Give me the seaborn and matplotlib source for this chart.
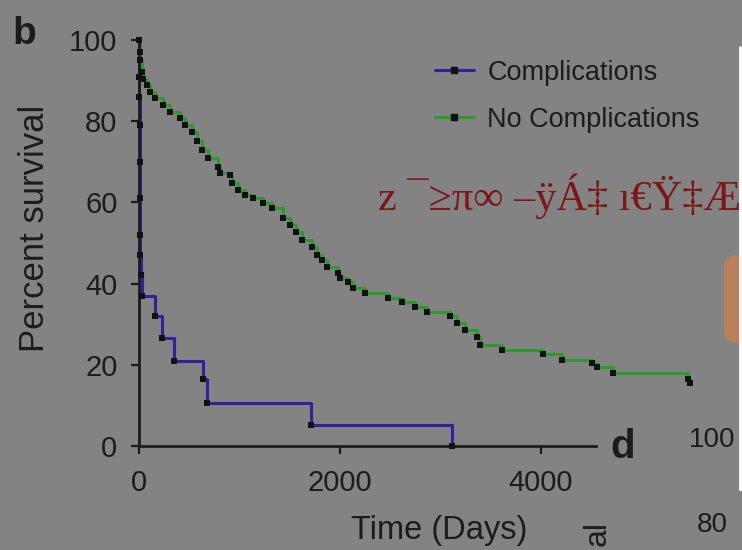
import matplotlib
matplotlib.use("Agg")
import matplotlib.pyplot as plt
import seaborn as sns
import pandas as pd
from matplotlib.lines import Line2D
from matplotlib.patches import FancyBboxPatch

# ---- data ----
comp_days = [0, 2, 4, 6, 8, 10, 12, 14, 20, 30, 160, 232, 348, 640, 680, 1708, 3111]
comp_surv = [100, 91, 86, 79, 70, 61, 52, 47, 42, 37, 32, 26.5, 21, 16.5, 10.5, 5.2, 0]

nocomp_days = [0, 5, 10, 27, 43, 77, 109, 159, 242, 308, 408, 458, 524, 574, 624,
               690, 789, 806, 905, 922, 988, 1055, 1137, 1237, 1323, 1433, 1502,
               1562, 1619, 1718, 1768, 1818, 1868, 1983, 2000, 2083, 2132, 2249,
               2481, 2614, 2746, 2863, 3095, 3161, 3244, 3360, 3393, 3609, 4017,
               4206, 4504, 4554, 4719, 5466, 5480]
nocomp_surv = [100, 97, 95, 92, 90.5, 89, 87.3, 85.6, 84, 82.3, 80.8, 79, 77.4, 75,
               73, 71, 68.8, 67.2, 66.7, 64.7, 63.1, 61.8, 61, 59.8, 58.6, 56.2,
               54.4, 52.7, 50.7, 49.1, 47, 45.8, 44.2, 42.5, 41.3, 40.5, 38.8, 37.6,
               36.5, 35.4, 34.2, 33.1, 32, 30.2, 28.6, 26.9, 24.9, 23.7, 22.7, 21.3,
               20.4, 19.4, 17.9, 16.5, 15.5]

series_names = ["Complications", "No Complications"]
x_ticks = [0, 2000, 4000]
y_ticks = [0, 20, 40, 60, 80, 100]

BG = "#838383"
BLUE = "#34209c"
GREEN = "#2f9a2c"
INK = "#1c1c1c"
MARK = "#111111"

sns.set_theme(style="white")
plt.rcParams["font.family"] = ["Liberation Sans", "DejaVu Sans"]

W, H = 742, 550
fig = plt.figure(figsize=(W / 100, H / 100), dpi=100, facecolor=BG)

x0_px, x_right_px = 139, 722
y0_px, y100_px = 446, 40
ax = fig.add_axes([x0_px / W, (H - y0_px) / H, (x_right_px - x0_px) / W, (y0_px - y100_px) / H])
ax.set_facecolor(BG)
ax.set_xlim(0, 5800)
ax.set_ylim(0, 100)

df_c = pd.DataFrame({"day": comp_days, "surv": comp_surv})
df_n = pd.DataFrame({"day": nocomp_days, "surv": nocomp_surv})

sns.lineplot(data=df_n, x="day", y="surv", ax=ax, color=GREEN, lw=2.2,
             drawstyle="steps-post", estimator=None, sort=False, clip_on=False)
sns.lineplot(data=df_c, x="day", y="surv", ax=ax, color=BLUE, lw=2.2,
             drawstyle="steps-post", estimator=None, sort=False, clip_on=False)
sns.scatterplot(data=df_n, x="day", y="surv", ax=ax, marker="s", s=22,
                color=MARK, edgecolor=MARK, linewidth=0, clip_on=False, zorder=5)
sns.scatterplot(data=df_c, x="day", y="surv", ax=ax, marker="s", s=22,
                color=MARK, edgecolor=MARK, linewidth=0, clip_on=False, zorder=5)

# axes styling
for s in ["top", "right"]:
    ax.spines[s].set_visible(False)
for s in ["left", "bottom"]:
    ax.spines[s].set_color(INK)
    ax.spines[s].set_linewidth(2.0)
ax.spines["bottom"].set_bounds(0, 4550)
ax.spines["left"].set_bounds(0, 100)
ax.set_xticks(x_ticks)
ax.set_yticks(y_ticks)
ax.set_xticklabels([str(v) for v in x_ticks])
ax.set_yticklabels([str(v) for v in y_ticks])
ax.tick_params(axis="both", direction="out", length=5.5, width=1.6, color=INK,
               labelsize=21, labelcolor=INK, bottom=True, left=True)
ax.tick_params(axis="x", pad=11)
ax.tick_params(axis="y", pad=10)
ax.set_xlabel("Time (Days)", fontsize=23.5, color=INK)
ax.set_ylabel("Percent survival", fontsize=25, color=INK)
ax.xaxis.label.set_va("center")
ax.yaxis.label.set_va("center")
ax.xaxis.set_label_coords((439 - x0_px) / (x_right_px - x0_px), (y0_px - 531) / (y0_px - y100_px))
ax.yaxis.set_label_coords((35 - x0_px) / (x_right_px - x0_px), (y0_px - 228) / (y0_px - y100_px))

handles = [Line2D([], [], color=BLUE, lw=2.2, marker="s", markersize=4.5,
                  markerfacecolor=MARK, markeredgecolor=MARK),
           Line2D([], [], color=GREEN, lw=2.2, marker="s", markersize=4.5,
                  markerfacecolor=MARK, markeredgecolor=MARK)]
fig.legend(handles, series_names, loc="upper left",
           bbox_to_anchor=(421 / W, (H - 46) / H), bbox_transform=fig.transFigure,
           frameon=False, fontsize=19.5, labelcolor=INK, handlelength=1.45,
           handletextpad=0.5, labelspacing=0.78, borderpad=0, numpoints=1)

# panel letters and neighbouring-panel fragments
fig.text(12 / W, (H - 34) / H, "b", fontsize=28, fontweight="bold", color=INK, va="center")
fig.text(610 / W, (H - 447) / H, "d", fontsize=29, fontweight="bold", color=INK, va="center")
fig.text(735 / W, (H - 440) / H, "100", fontsize=20, color=INK, va="center", ha="right")
fig.text(728 / W, (H - 525) / H, "80", fontsize=20, color=INK, va="center", ha="right")
fig.text(598 / W, (H - 534) / H, "al", fontsize=23, color=INK, va="center", ha="center", rotation=90)

# garbled overlay text
fig.text(378 / W, (H - 196) / H, "z ¯≥π∞ –ÿÁ‡ ı€Ÿ‡Æ", fontsize=30.5, color="#7d1616",
         va="center", ha="left", family=["Liberation Serif", "DejaVu Serif"])

# white frame fragment and orange box at the right edge
fig.add_artist(Line2D([740 / W, 740 / W], [(H - 47) / H, (H - 489) / H],
                      color="white", lw=2, transform=fig.transFigure))
fig.add_artist(Line2D([740 / W, 1.0], [(H - 489) / H, (H - 489) / H],
                      color="white", lw=2, transform=fig.transFigure))
fig.add_artist(FancyBboxPatch((724 / W, (H - 343) / H), 40 / W, 88 / H,
                              boxstyle="round,pad=0,rounding_size=0.02",
                              facecolor="#b97f5c", edgecolor="none",
                              transform=fig.transFigure))

fig.savefig("out.png", dpi=100, facecolor=BG)
